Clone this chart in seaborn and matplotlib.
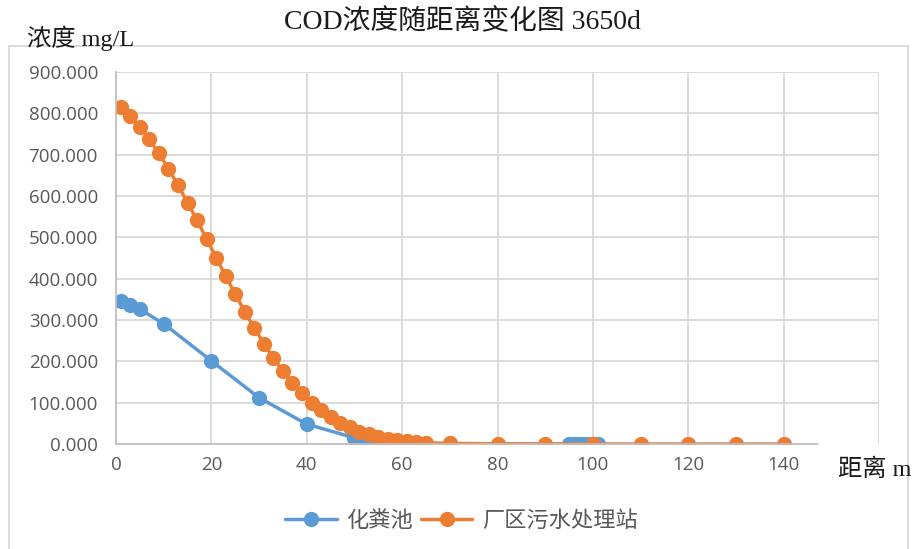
"""
COD浓度随距离变化图 3650d
"""

import pandas as pd
import seaborn as sns
from matplotlib import pyplot as plt
from matplotlib.lines import Line2D
from matplotlib.patches import Rectangle
from matplotlib.ticker import FormatStrFormatter

# data
series_names = ["化粪池", "厂区污水处理站"]

septic_x = [1, 3, 5, 10, 20, 30, 40, 50, 52, 54, 60, 95, 96, 97, 98, 99, 100, 101]
septic_y = [347, 337, 326, 291, 201, 112, 48, 15, 9, 5, 0.5, 0, 0, 0, 0, 0, 0, 0]

plant_x = [1, 3, 5, 7, 9, 11, 13, 15, 17, 19, 21, 23, 25, 27, 29, 31, 33,
           35, 37, 39, 41, 43, 45, 47, 49, 51, 53, 55, 57, 59, 61, 63, 65,
           70, 80, 90, 100, 110, 120, 130, 140]
plant_y = [815, 793, 767, 737, 703, 666, 626, 584, 541, 496, 451, 406, 363,
           320, 281, 243, 209, 176, 148, 123, 100, 82, 66, 52, 40, 30, 23, 17,
           13, 9, 7, 5, 3, 1.5, 0.5, 0.1, 0, 0, 0, 0, 0]

x_ticks = [0, 20, 40, 60, 80, 100, 120, 140, 160]
x_tick_labels = ["0", "20", "40", "60", "80", "100", "120", "140", ""]
y_ticks = [0, 100, 200, 300, 400, 500, 600, 700, 800, 900]

colors = ["#5B9BD5", "#ED7D31"]

df = pd.concat([
    pd.DataFrame({"距离": septic_x, "浓度": septic_y, "站点": series_names[0]}),
    pd.DataFrame({"距离": plant_x, "浓度": plant_y, "站点": series_names[1]}),
])

sns.set_theme(style="white")
plt.rcParams["font.family"] = ["Open Sans", "Noto Sans CJK SC"]

fig = plt.figure(figsize=(9.14, 5.49), dpi=100)
ax = fig.add_axes([116 / 914, 1 - 444 / 549, (879 - 116) / 914, (444 - 72) / 549])

sns.lineplot(data=df, x="距离", y="浓度", hue="站点", hue_order=series_names,
             palette=colors, estimator=None, sort=False, marker="o",
             markersize=11, markeredgewidth=0, linewidth=2.5, legend=False, ax=ax)

ax.set_xlim(0, 160)
ax.set_ylim(0, 900)
ax.set_xticks(x_ticks)
ax.set_xticklabels(x_tick_labels)
ax.set_yticks(y_ticks)
ax.yaxis.set_major_formatter(FormatStrFormatter("%.3f"))
ax.tick_params(axis="both", length=0, labelsize=13.5, colors="#595959")
ax.tick_params(axis="y", pad=13)
ax.tick_params(axis="x", pad=9)
ax.set_xlabel("")
ax.set_ylabel("")

# gridlines
ax.grid(True, color="#D9D9D9", linewidth=1.3)
ax.set_axisbelow(True)
ax.yaxis.get_gridlines()[0].set_visible(False)
ax.xaxis.get_gridlines()[0].set_visible(False)

for side in ["top", "right"]:
    ax.spines[side].set_visible(False)
ax.spines["left"].set_color("#BFBFBF")
ax.spines["left"].set_linewidth(1.3)
ax.spines["bottom"].set_color("#BFBFBF")
ax.spines["bottom"].set_linewidth(1.3)
ax.spines["bottom"].set_bounds(0, 147)

# legend
handles = [Line2D([], [], color=c, lw=2.5, marker="o", markersize=11,
                  markeredgewidth=0) for c in colors]
leg = ax.legend(handles, series_names, loc="center", bbox_to_anchor=(0.453, -0.207),
                ncol=2, frameon=False, handlelength=2.3, columnspacing=0.35,
                handletextpad=0.45, prop={"size": 16})
for t in leg.get_texts():
    t.set_color("#595959")

# title and axis titles
serif = ["Liberation Serif", "Noto Sans CJK SC"]
fig.text(462 / 914, 1 - 22 / 549, "COD浓度随距离变化图 3650d", ha="center",
         va="center", fontsize=20, family=serif, color="#1a1a1a")
fig.text(27 / 914, 1 - 38 / 549, "浓度 mg/L", ha="left", va="center",
         fontsize=17.5, family=serif, color="#1a1a1a")
fig.text(838 / 914, 1 - 470 / 549, "距离 m", ha="left", va="center",
         fontsize=17.5, family=serif, color="#1a1a1a")

# outer chart border
fig.patches.append(Rectangle((9 / 914, -0.01), (908 - 9) / 914, 1.01 - 46 / 549,
                             transform=fig.transFigure, fill=False,
                             edgecolor="#D9D9D9", linewidth=1.3))

plt.savefig("out.png", dpi=100)
